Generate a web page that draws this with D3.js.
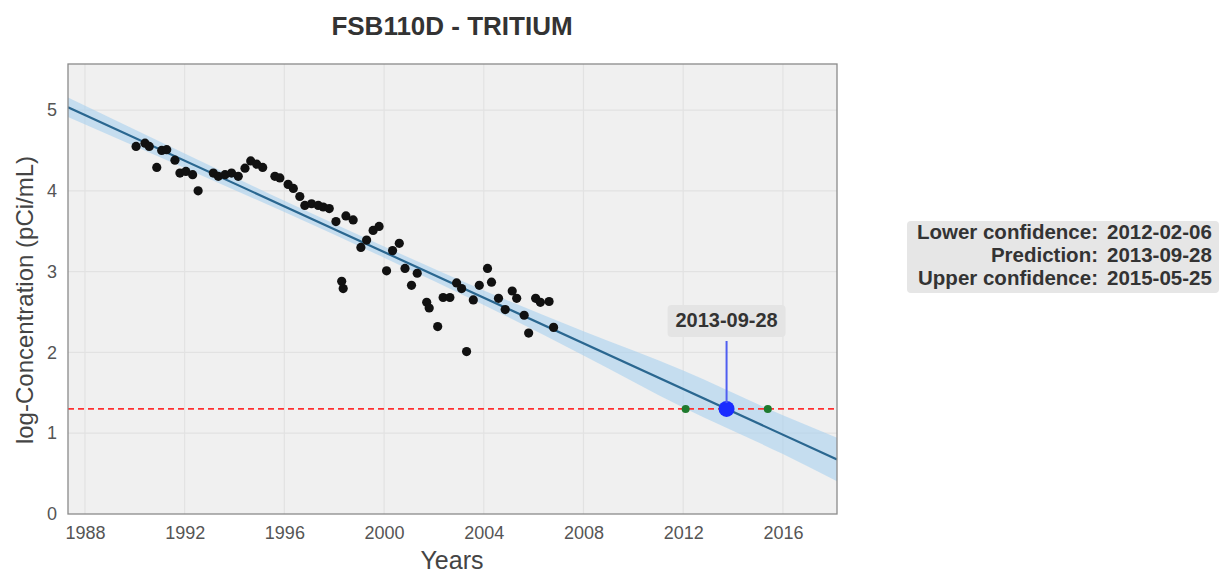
<!DOCTYPE html>
<html>
<head>
<meta charset="utf-8">
<script src="https://cdn.jsdelivr.net/npm/d3@7"></script>
<style>
  body { margin: 0; background: #ffffff; }
  svg { display: block; font-family: "Liberation Sans", Arial, sans-serif; }
</style>
</head>
<body>
<svg id="chart" width="1225" height="574"></svg>
<script>
// Observed log-concentrations (decimal year, log pCi/mL)
const obsYears = [
  1990.05, 1990.41, 1990.58, 1990.88, 1991.08, 1991.28, 1991.61, 1991.81, 1992.05, 1992.32,
  1992.54, 1993.15, 1993.35, 1993.62, 1993.88, 1994.15, 1994.42, 1994.65, 1994.89, 1995.13,
  1995.62, 1995.82, 1996.15, 1996.36, 1996.62, 1996.82, 1997.09, 1997.36, 1997.56, 1997.80,
  1998.07, 1998.30, 1998.36, 1998.47, 1998.76, 1999.07, 1999.30, 1999.56, 1999.80, 2000.10,
  2000.34, 2000.61, 2000.84, 2001.10, 2001.33, 2001.71, 2001.81, 2002.15, 2002.37, 2002.64,
  2002.91, 2003.11, 2003.31, 2003.58, 2003.82, 2004.15, 2004.31, 2004.59, 2004.86, 2005.14,
  2005.32, 2005.62, 2005.80, 2006.08, 2006.27, 2006.62, 2006.80
];
const obsValues = [
  4.55, 4.59, 4.55, 4.29, 4.50, 4.51, 4.38, 4.22, 4.24, 4.20,
  4.00, 4.22, 4.18, 4.20, 4.22, 4.18, 4.28, 4.37, 4.33, 4.29,
  4.18, 4.16, 4.08, 4.03, 3.93, 3.82, 3.84, 3.82, 3.80, 3.78,
  3.62, 2.88, 2.79, 3.69, 3.64, 3.30, 3.39, 3.51, 3.56, 3.01,
  3.26, 3.35, 3.04, 2.83, 2.98, 2.62, 2.55, 2.32, 2.68, 2.68,
  2.86, 2.79, 2.01, 2.65, 2.83, 3.04, 2.87, 2.67, 2.53, 2.76,
  2.67, 2.46, 2.24, 2.67, 2.62, 2.63, 2.31
];

// Fitted trend line (end points) and its confidence half-width
const fitYears = [1987.32, 2018.17];
const fitValues = [5.034, 0.675];
const bandYears = [1987.32, 1992, 1996, 2000, 2004, 2008, 2012, 2016, 2018.17];
const bandHalfWidth = [0.12, 0.09, 0.07, 0.07, 0.09, 0.15, 0.23, 0.24, 0.27];

// Regulatory limit: log10(20 pCi/mL)
const threshold = 1.301;

// Dates when the trend reaches the limit
const crossingNames = ["Lower confidence:", "Prediction:", "Upper confidence:"];
const crossingDates = ["2012-02-06", "2013-09-28", "2015-05-25"];

const xTickValues = [1988, 1992, 1996, 2000, 2004, 2008, 2012, 2016];
const yTickValues = [0, 1, 2, 3, 4, 5];

const svg = d3.select("#chart");
const plot = { left: 68, right: 837, top: 64, bottom: 514 };

const x = d3.scaleLinear().domain([1987.32, 2018.17]).range([plot.left, plot.right]);
const y = d3.scaleLinear().domain([0, 5.57]).range([plot.bottom, plot.top]);

const fit = d3.scaleLinear().domain(fitYears).range(fitValues);
const halfWidth = d3.scaleLinear().domain(bandYears).range(bandHalfWidth);

function toDecimalYear(s) {
  const d = d3.timeParse("%Y-%m-%d")(s);
  const start = new Date(d.getFullYear(), 0, 1);
  const end = new Date(d.getFullYear() + 1, 0, 1);
  return d.getFullYear() + (d - start) / (end - start);
}
const crossingYears = crossingDates.map(toDecimalYear);

// Plot background
svg.append("rect")
  .attr("x", plot.left).attr("y", plot.top)
  .attr("width", plot.right - plot.left).attr("height", plot.bottom - plot.top)
  .attr("fill", "#f0f0f0");

svg.append("defs").append("clipPath").attr("id", "clip")
  .append("rect")
  .attr("x", plot.left).attr("y", plot.top)
  .attr("width", plot.right - plot.left).attr("height", plot.bottom - plot.top);

// Grid lines
const grid = svg.append("g");
grid.selectAll("line.vx").data(xTickValues).join("line")
  .attr("x1", d => x(d)).attr("x2", d => x(d))
  .attr("y1", plot.top).attr("y2", plot.bottom)
  .attr("stroke", "#e2e2e2").attr("stroke-width", 1.2);
grid.selectAll("line.hy").data(yTickValues.filter(v => v > 0)).join("line")
  .attr("x1", plot.left).attr("x2", plot.right)
  .attr("y1", d => y(d)).attr("y2", d => y(d))
  .attr("stroke", "#e2e2e2").attr("stroke-width", 1.2);

const inner = svg.append("g").attr("clip-path", "url(#clip)");

// Confidence band around the trend
const area = d3.area()
  .x(d => x(d))
  .y0(d => y(fit(d) - halfWidth(d)))
  .y1(d => y(fit(d) + halfWidth(d)))
  .curve(d3.curveMonotoneX);
inner.append("path").datum(bandYears)
  .attr("d", area)
  .attr("fill", "#a9d0ee").attr("opacity", 0.6);

// Limit line
inner.append("line")
  .attr("x1", plot.left).attr("x2", plot.right)
  .attr("y1", y(threshold)).attr("y2", y(threshold))
  .attr("stroke", "#ff3030").attr("stroke-width", 1.6)
  .attr("stroke-dasharray", "6,4");

// Trend line
inner.append("path").datum(fitYears)
  .attr("d", d3.line().x(d => x(d)).y(d => y(fit(d))))
  .attr("fill", "none").attr("stroke", "#2a6790").attr("stroke-width", 2.2);

// Observations
inner.selectAll("circle.obs").data(obsYears).join("circle")
  .attr("class", "obs")
  .attr("cx", d => x(d))
  .attr("cy", (d, i) => y(obsValues[i]))
  .attr("r", 4.6)
  .attr("fill", "#111111");

// Confidence crossings (green) and predicted crossing (blue)
inner.selectAll("circle.conf").data([crossingYears[0], crossingYears[2]]).join("circle")
  .attr("class", "conf")
  .attr("cx", d => x(d)).attr("cy", y(threshold))
  .attr("r", 4).attr("fill", "#1f7a2e");

// Annotation arrow and label
const px = x(crossingYears[1]);
svg.append("line")
  .attr("x1", px).attr("x2", px)
  .attr("y1", 341).attr("y2", y(threshold) - 6)
  .attr("stroke", "#4f5ef0").attr("stroke-width", 2);

inner.append("circle")
  .attr("cx", px).attr("cy", y(threshold))
  .attr("r", 8).attr("fill", "#1a2cff");

const ann = svg.append("g");
ann.append("rect")
  .attr("x", px - 59).attr("y", 305)
  .attr("width", 118).attr("height", 32)
  .attr("rx", 4).attr("fill", "#e4e4e4");
ann.append("text")
  .attr("x", px).attr("y", 322)
  .attr("text-anchor", "middle").attr("dominant-baseline", "middle")
  .attr("font-size", 20).attr("font-weight", "bold").attr("fill", "#333333")
  .text(crossingDates[1]);

// Plot frame
svg.append("rect")
  .attr("x", plot.left).attr("y", plot.top)
  .attr("width", plot.right - plot.left).attr("height", plot.bottom - plot.top)
  .attr("fill", "none").attr("stroke", "#8a8a8a").attr("stroke-width", 1.3);

// Axes
const xAxis = d3.axisBottom(x).tickValues(xTickValues).tickFormat(d3.format("d")).tickSize(0).tickPadding(12);
const yAxis = d3.axisLeft(y).tickValues(yTickValues).tickFormat(d3.format("d")).tickSize(0).tickPadding(11);

const gx = svg.append("g").attr("transform", `translate(0,${plot.bottom})`).call(xAxis);
const gy = svg.append("g").attr("transform", `translate(${plot.left},0)`).call(yAxis);
[gx, gy].forEach(g => {
  g.select(".domain").remove();
  g.selectAll("text")
    .attr("font-family", "'Liberation Sans', Arial, sans-serif")
    .attr("font-size", 18).attr("fill", "#555555");
});

// Titles
svg.append("text")
  .attr("x", 452).attr("y", 35)
  .attr("text-anchor", "middle")
  .attr("font-size", 26).attr("font-weight", "bold").attr("fill", "#333333")
  .text("FSB110D - TRITIUM");

svg.append("text")
  .attr("x", 452).attr("y", 569)
  .attr("text-anchor", "middle")
  .attr("font-size", 25).attr("fill", "#444444")
  .text("Years");

svg.append("text")
  .attr("transform", "translate(33,300) rotate(-90)")
  .attr("text-anchor", "middle")
  .attr("font-size", 24).attr("fill", "#444444")
  .text("log-Concentration (pCi/mL)");

// Crossing-date summary box
const box = svg.append("g");
box.append("rect")
  .attr("x", 907).attr("y", 221)
  .attr("width", 312).attr("height", 72)
  .attr("rx", 4).attr("fill", "#e6e6e6");
crossingNames.forEach((name, i) => {
  const ty = 234 + i * 23;
  box.append("text")
    .attr("x", 1098).attr("y", ty)
    .attr("text-anchor", "end").attr("dominant-baseline", "middle")
    .attr("font-size", 20.5).attr("font-weight", "bold").attr("fill", "#333333")
    .text(name);
  box.append("text")
    .attr("x", 1107).attr("y", ty)
    .attr("dominant-baseline", "middle")
    .attr("font-size", 20.5).attr("font-weight", "bold").attr("fill", "#333333")
    .text(crossingDates[i]);
});
</script>
</body>
</html>
